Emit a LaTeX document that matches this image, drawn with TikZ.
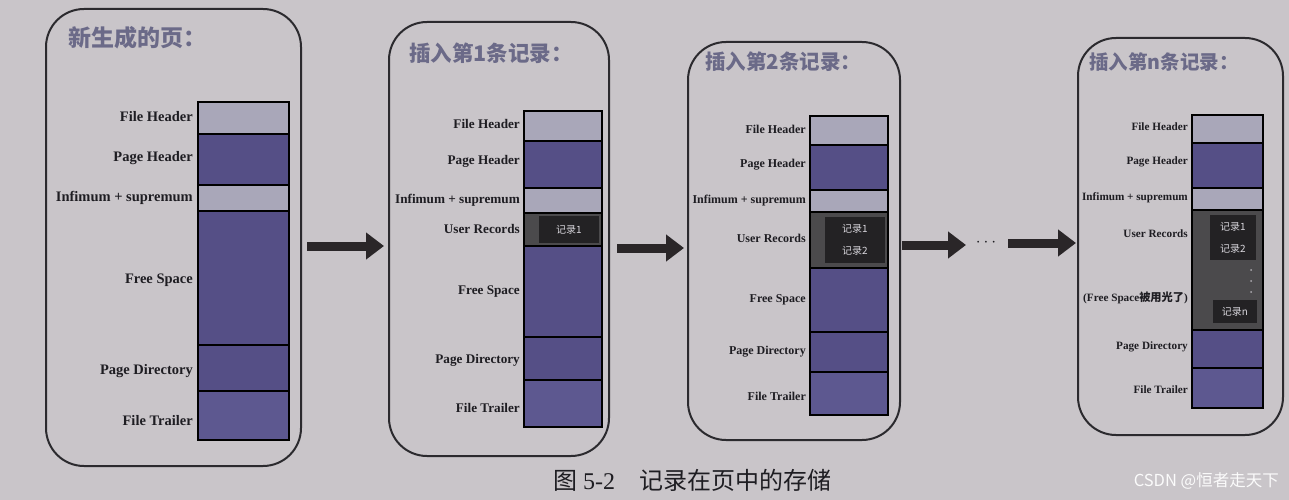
\documentclass[tikz,border=0pt]{standalone}
\usepackage{fontspec}
\setmainfont{Liberation Serif}
\newfontfamily\cjk{Noto Sans CJK SC}
\usetikzlibrary{arrows.meta}
\definecolor{paper}{HTML}{C9C5C9}
\definecolor{frame}{HTML}{2B2A2E}
\definecolor{lightblk}{HTML}{A9A7B9}
\definecolor{darkblk}{HTML}{554F86}
\definecolor{darkblkB}{HTML}{5D5890}
\definecolor{urgrey}{HTML}{4B4A4C}
\definecolor{recblk}{HTML}{232224}
\definecolor{rectext}{HTML}{D8D6DC}
\definecolor{labtext}{HTML}{1E1D22}
\definecolor{titlec}{HTML}{6B6A88}
\definecolor{arrowc}{HTML}{2A2628}
\begin{document}
\begin{tikzpicture}[x=1pt,y=-1pt,
  panel/.style={draw=frame, line width=2pt, rounded corners=38pt},
  cell/.style={draw=black, line width=1.6pt},
  light/.style={cell, fill=lightblk},
  dark/.style={cell, fill=darkblk},
  darkB/.style={cell, fill=darkblkB},
  ur/.style={cell, fill=urgrey},
  recbox/.style={fill=recblk, draw=none},
  rec/.style={inner sep=0pt, text=rectext, font=\cjk\fontsize{10}{12}\selectfont},
  lab/.style={anchor=east, inner sep=0pt, text=labtext},
  labA/.style={lab, font=\bfseries\fontsize{14.5}{16}\selectfont},
  labB/.style={lab, font=\bfseries\fontsize{13.2}{15}\selectfont},
  labC/.style={lab, font=\bfseries\fontsize{12}{14}\selectfont},
  labD/.style={lab, font=\bfseries\fontsize{11.2}{13}\selectfont},
  title/.style={anchor=west, inner sep=0pt, text=titlec},
  bigarrow/.style={draw=arrowc, line width=9pt, -{Triangle[length=18pt,width=26pt]}}
]
\fill[paper] (0,0) rectangle (1289,500);
\useasboundingbox (0,0) rectangle (1289,500);

% ---------- page 1: a new page ----------
\draw[panel] (46,9) rectangle (301,466);
\node[title, font=\cjk\bfseries\fontsize{23}{26}\selectfont] (t1) at (68,38) {新生成的页：};
\draw[light] (198,102) rectangle (289,134);
\draw[dark]  (198,134) rectangle (289,185);
\draw[light] (198,185) rectangle (289,211);
\draw[dark]  (198,211) rectangle (289,345);
\draw[dark]  (198,345) rectangle (289,391);
\draw[darkB] (198,391) rectangle (289,440);
\node[labA] (a-fh) at (193,117) {File Header};
\node[labA] (a-ph) at (193,158) {Page Header};
\node[labA] (a-is) at (193,198) {Infimum + supremum};
\node[labA] (a-fs) at (193,280) {Free Space};
\node[labA] (a-pd) at (193,371) {Page Directory};
\node[labA] (a-ft) at (193,421) {File Trailer};

% ---------- page 2: first record ----------
\draw[panel] (389,22) rectangle (609,456);
\node[title, font=\cjk\bfseries\fontsize{21.5}{24}\selectfont] (t2) at (409,53) {插入第1条记录：};
\draw[light] (524,111) rectangle (602,141);
\draw[dark]  (524,141) rectangle (602,188);
\draw[light] (524,188) rectangle (602,213);
\draw[ur]    (524,213) rectangle (602,246);
\fill[recbox] (539,216) rectangle (599,243);
\node[rec] (r2-1) at (569,229.5) {记录1};
\draw[dark]  (524,246) rectangle (602,337);
\draw[dark]  (524,337) rectangle (602,380);
\draw[darkB] (524,380) rectangle (602,427);
\node[labB] (b-fh) at (520,124) {File Header};
\node[labB] (b-ph) at (520,161) {Page Header};
\node[labB] (b-is) at (520,200) {Infimum + supremum};
\node[labB] (b-ur) at (520,229) {User Records};
\node[labB] (b-fs) at (520,292) {Free Space};
\node[labB] (b-pd) at (520,360) {Page Directory};
\node[labB] (b-ft) at (520,408) {File Trailer};

% ---------- page 3: second record ----------
\draw[panel] (688,42) rectangle (900,440);
\node[title, font=\cjk\bfseries\fontsize{20.5}{23}\selectfont] (t3) at (705,62) {插入第2条记录：};
\draw[light] (810,116) rectangle (888,145);
\draw[dark]  (810,145) rectangle (888,190);
\draw[light] (810,190) rectangle (888,212);
\draw[ur]    (810,212) rectangle (888,268);
\fill[recbox] (825,217) rectangle (885,263);
\node[rec] (r3-1) at (855,228.5) {记录1};
\node[rec] (r3-2) at (855,250.5) {记录2};
\draw[dark]  (810,268) rectangle (888,332);
\draw[dark]  (810,332) rectangle (888,372);
\draw[darkB] (810,372) rectangle (888,415);
\node[labC] (c-fh) at (806,129) {File Header};
\node[labC] (c-ph) at (806,165) {Page Header};
\node[labC] (c-is) at (806,201) {Infimum + supremum};
\node[labC] (c-ur) at (806,238) {User Records};
\node[labC] (c-fs) at (806,300) {Free Space};
\node[labC] (c-pd) at (806,352) {Page Directory};
\node[labC] (c-ft) at (806,396) {File Trailer};

% ---------- page 4: n-th record, page full ----------
\draw[panel] (1078,38) rectangle (1283,435);
\node[title, font=\cjk\bfseries\fontsize{19.5}{22}\selectfont] (t4) at (1089,62) {插入第n条记录：};
\draw[light] (1192,115) rectangle (1263,143);
\draw[dark]  (1192,143) rectangle (1263,188);
\draw[light] (1192,188) rectangle (1263,210);
\draw[ur]    (1192,210) rectangle (1263,330);
\fill[recbox] (1210,215) rectangle (1256,260);
\node[rec] (r4-1) at (1233,226.5) {记录1};
\node[rec] (r4-2) at (1233,248.5) {记录2};
\foreach \yy in {270,281,292} \fill[rectext!70!urgrey] (1251,\yy) circle (1pt);
\fill[recbox] (1213,300) rectangle (1257,323);
\node[rec] (r4-n) at (1235,311.5) {记录n};
\draw[dark]  (1192,330) rectangle (1263,368);
\draw[darkB] (1192,368) rectangle (1263,408);
\node[labD] (d-fh) at (1188,127) {File Header};
\node[labD] (d-ph) at (1188,162) {Page Header};
\node[labD] (d-is) at (1188,198) {Infimum + supremum};
\node[labD] (d-ur) at (1188,234) {User Records};
\node[labD] (d-fs) at (1188,298) {(Free Space{\cjk\bfseries 被用光了})};
\node[labD] (d-pd) at (1188,347) {Page Directory};
\node[labD] (d-ft) at (1188,390) {File Trailer};

% ---------- arrows between the pages ----------
\coordinate (a1s) at (307,246);  \coordinate (a1e) at (384,246);
\coordinate (a2s) at (617,248);  \coordinate (a2e) at (684,248);
\coordinate (a3s) at (902,245);  \coordinate (a3e) at (966,245);
\coordinate (a4s) at (1008,243); \coordinate (a4e) at (1076,243);
\draw[bigarrow] (a1s) -- (a1e);
\draw[bigarrow] (a2s) -- (a2e);
\draw[bigarrow] (a3s) -- (a3e);
\draw[bigarrow] (a4s) -- (a4e);
\node[inner sep=0pt, text=labtext, font=\fontsize{18}{20}\selectfont] (dots) at (986,243) {$\cdots$};

% ---------- caption ----------
\node[anchor=west, inner sep=0pt, text=labtext, font=\fontsize{24}{28}\selectfont] (cap) at (553,480)
  {{\cjk 图} 5-2\hspace{24pt}{\cjk 记录在页中的存储}};
\node[anchor=east, inner sep=0pt, text=white!93!paper, font=\cjk\fontsize{16.5}{19}\selectfont] (wm) at (1279,481)
  {CSDN @恒者走天下};
\end{tikzpicture}
\end{document}
